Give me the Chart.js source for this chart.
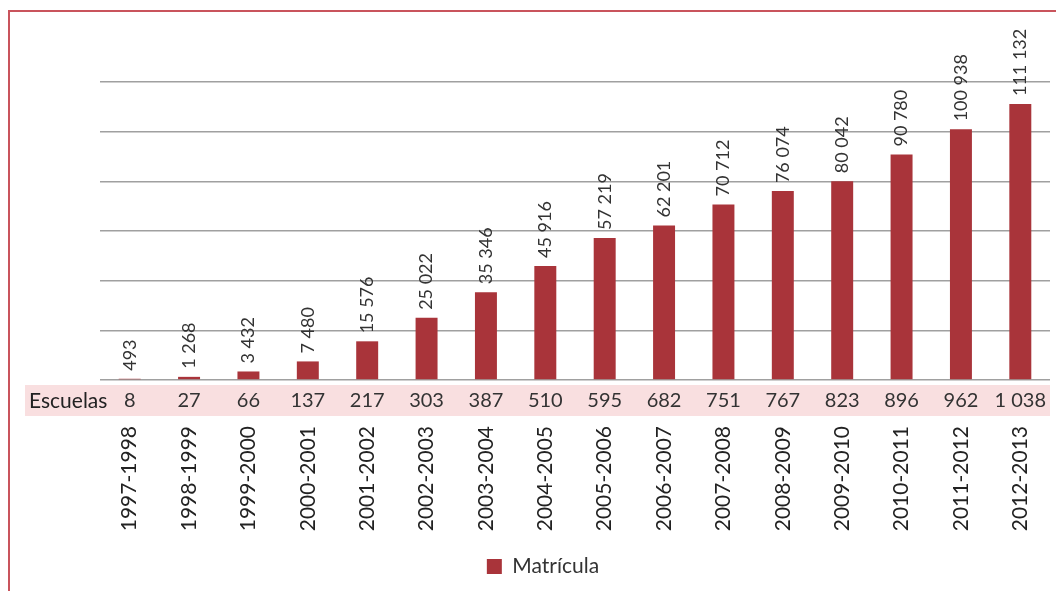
<!DOCTYPE html>
<html>
<head>
<meta charset="utf-8">
<script src="https://cdn.jsdelivr.net/npm/chart.js@4/dist/chart.umd.min.js"></script>
<style>
  html, body { margin: 0; padding: 0; background: #fff; }
  #wrap { position: relative; width: 1056px; height: 591px; }
  #frame { position: absolute; left: 8px; top: 10px; right: -20px; bottom: -20px;
           border-left: 2px solid #c9545c; border-top: 2px solid #c9545c; }
  canvas { position: absolute; left: 0; top: 0; }
</style>
</head>
<body>
<div id="wrap">
  <div id="frame"></div>
  <canvas id="chart" width="1056" height="591"></canvas>
</div>
<script>
const cycles = ['1997-1998', '1998-1999', '1999-2000', '2000-2001', '2001-2002', '2002-2003',
  '2003-2004', '2004-2005', '2005-2006', '2006-2007', '2007-2008', '2008-2009',
  '2009-2010', '2010-2011', '2011-2012', '2012-2013'];
const matricula = [493, 1268, 3432, 7480, 15576, 25022, 35346, 45916, 57219, 62201,
  70712, 76074, 80042, 90780, 100938, 111132];
const escuelas = [8, 27, 66, 137, 217, 303, 387, 510, 595, 682, 751, 767, 823, 896, 962, 1038];

const FONT = 'Lato, "Open Sans", sans-serif';
const fmt = (v) => String(v).replace(/\B(?=(\d{3})+(?!\d))/g, ' ');

// labels above bars + the "Escuelas" row under the axis
const extras = {
  id: 'extras',
  beforeDatasetsDraw(chart) {
    const c = chart.ctx;
    const area = chart.chartArea;
    c.save();
    c.fillStyle = '#f9dfe0';
    c.fillRect(25, area.bottom + 5, area.right - 25, 31);
    c.restore();
  },
  afterDatasetsDraw(chart) {
    const c = chart.ctx;
    const area = chart.chartArea;
    const meta = chart.getDatasetMeta(0);
    c.save();
    c.fillStyle = '#333';
    c.font = '18px ' + FONT;
    meta.data.forEach((bar, i) => {
      c.save();
      c.translate(bar.x, bar.y - 8);
      c.rotate(-Math.PI / 2);
      c.textAlign = 'left';
      c.textBaseline = 'middle';
      c.fillText(fmt(matricula[i]), 0, 0);
      c.restore();
    });
    const rowY = area.bottom + 21;
    c.textBaseline = 'middle';
    c.textAlign = 'center';
    c.font = '20px ' + FONT;
    meta.data.forEach((bar, i) => {
      c.fillText(fmt(escuelas[i]), bar.x, rowY);
    });
    c.textAlign = 'left';
    c.fillStyle = '#222';
    c.font = '21px ' + FONT;
    c.fillText('Escuelas', 29, rowY);
    c.restore();
  }
};

new Chart(document.getElementById('chart'), {
  type: 'bar',
  data: {
    labels: cycles,
    datasets: [{
      label: 'Matrícula',
      data: matricula,
      backgroundColor: '#a9343a',
      borderWidth: 0,
      categoryPercentage: 1,
      barPercentage: 0.37
    }]
  },
  options: {
    responsive: false,
    animation: false,
    layout: { padding: { left: 36, top: 82, right: 6, bottom: 4 } },
    scales: {
      x: {
        grid: { display: false, drawTicks: false },
        border: { display: false },
        ticks: {
          minRotation: 90,
          maxRotation: 90,
          padding: 46,
          color: '#222',
          font: { family: FONT, size: 21 }
        },
        afterFit: (scale) => {
          scale.height = 166;
          scale.paddingLeft = 0;
          scale.paddingRight = 0;
        }
      },
      y: {
        min: 0,
        max: 120000,
        ticks: { display: false, stepSize: 20000 },
        grid: { color: '#a0a0a0', lineWidth: 1.5, drawTicks: false },
        border: { display: false },
        afterFit: (scale) => { scale.width = 64; }
      }
    },
    plugins: {
      legend: {
        position: 'bottom',
        labels: {
          boxWidth: 15,
          boxHeight: 15,
          padding: 10,
          color: '#333',
          font: { family: FONT, size: 21 }
        }
      },
      tooltip: { enabled: false }
    }
  },
  plugins: [extras]
});
</script>
</body>
</html>
